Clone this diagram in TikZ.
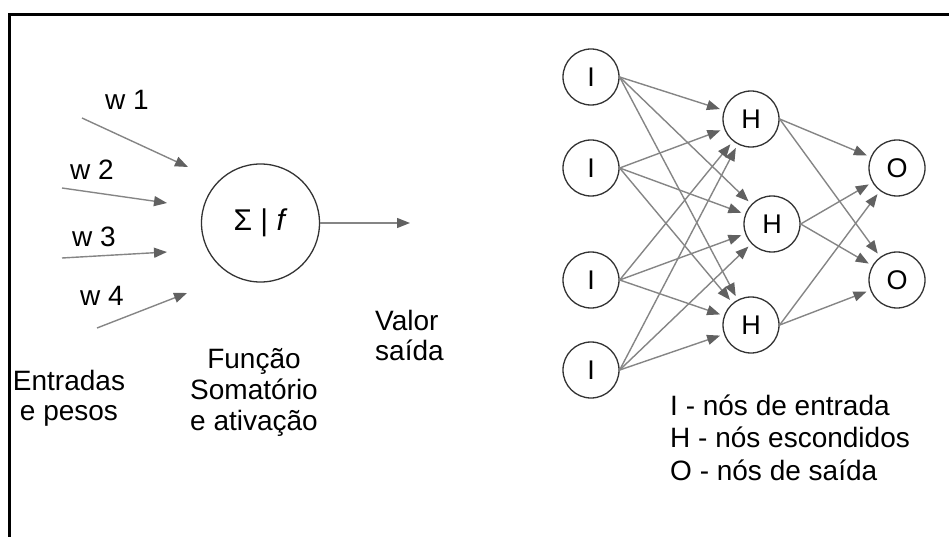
\documentclass[tikz,border=0pt]{standalone}
\usepackage{fontspec}
\setmainfont{Liberation Sans}
\usetikzlibrary{arrows.meta}
\begin{document}
\begin{tikzpicture}[x=1pt,y=-1pt,
  lbl/.style={font=\fontsize{28}{30}\selectfont, inner sep=0pt},
  neuron/.style={circle, draw=black!80, line width=1.3pt, minimum size=56pt,
    inner sep=0pt, font=\fontsize{27}{30}\selectfont},
  wire/.style={draw=black!48, line width=1.4pt,
    -{Triangle[length=13pt,width=10pt,color=black!62]}, shorten >=4pt}
]
\useasboundingbox (0,0) rectangle (949,537);
% frame (top and left edges only)
\draw[line width=3pt] (9.5,537) -- (9.5,15) -- (949,15);

% ---- single neuron ----
\node[circle, draw=black!80, line width=1.3pt, minimum size=118pt, inner sep=0pt,
  font=\fontsize{30}{32}\selectfont] (soma) at (260.5,223) {Σ | \textit{f}};

\coordinate (w1s) at (82,118);  \coordinate (w1e) at (188,167);
\coordinate (w2s) at (62,188);  \coordinate (w2e) at (167,203);
\coordinate (w3s) at (62,258);  \coordinate (w3e) at (167,252);
\coordinate (w4s) at (97,328);  \coordinate (w4e) at (187,293);
\coordinate (out) at (410,223);
\draw[wire, shorten >=0pt] (w1s) -- (w1e);
\draw[wire, shorten >=0pt] (w2s) -- (w2e);
\draw[wire, shorten >=0pt] (w3s) -- (w3e);
\draw[wire, shorten >=0pt] (w4s) -- (w4e);
\draw[wire, shorten >=0pt] (soma.east) -- (out);

\node[lbl, anchor=base west] (lw1) at (105,110) {w 1};
\node[lbl, anchor=base west] (lw2) at (70,180) {w 2};
\node[lbl, anchor=base west] (lw3) at (72,247) {w 3};
\node[lbl, anchor=base west] (lw4) at (80,305) {w 4};

% multi-line labels: the base anchor sits on the last line
\node[lbl, align=center, anchor=base] (inp) at (69,420) {Entradas\\e pesos};
\node[lbl, align=center, anchor=base, font=\fontsize{28}{31}\selectfont]
  (fun) at (254,430) {Função\\Somatório\\e ativação};
\node[lbl, align=left, anchor=base west] (val) at (375,360) {Valor\\saída};

% ---- network ----
\node[neuron] (i1) at (591,77) {I};
\node[neuron] (i2) at (591,168) {I};
\node[neuron] (i3) at (591,280) {I};
\node[neuron] (i4) at (591,370) {I};
\node[neuron] (h1) at (751,119) {H};
\node[neuron] (h2) at (772,224) {H};
\node[neuron] (h3) at (751,325) {H};
\node[neuron] (o1) at (897,168) {O};
\node[neuron] (o2) at (897,280) {O};

\foreach \a in {i1,i2,i3,i4}
  \foreach \b in {h1,h2,h3}
    \draw[wire] (\a.east) -- (\b);
\foreach \a in {h1,h2,h3}
  \foreach \b in {o1,o2}
    \draw[wire] (\a.east) -- (\b);

\node[lbl, align=left, anchor=base west,
  font=\fontsize{28}{32.5}\selectfont] (key) at (670,480)
  {I - nós de entrada\\H - nós escondidos\\O - nós de saída};
\end{tikzpicture}
\end{document}
